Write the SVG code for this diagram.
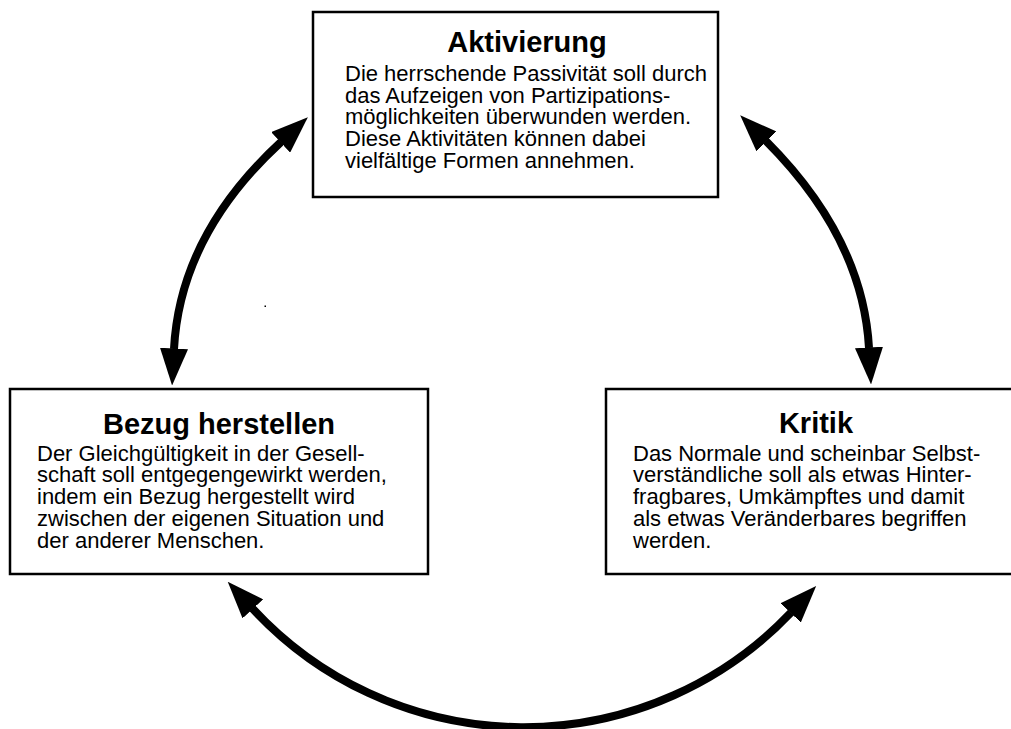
<svg xmlns="http://www.w3.org/2000/svg" width="1011" height="729" viewBox="0 0 1011 729">
<style>
.box{fill:#fff;stroke:#000;stroke-width:2.5}
.title{font-family:"Liberation Sans",Arial,sans-serif;font-weight:bold;font-size:29px;text-anchor:middle;fill:#000}
.body{font-family:"Liberation Sans",Arial,sans-serif;font-size:22px;fill:#000}
.arrow{fill:none;stroke:#000;stroke-width:8;marker-start:url(#ah);marker-end:url(#ah)}
</style>
<defs>
<marker id="ah" markerUnits="userSpaceOnUse" viewBox="0 0 37 28" markerWidth="37" markerHeight="28" refX="0.5" refY="14" orient="auto-start-reverse">
<path d="M0,0 L37,14 L0,28 z" fill="#000"/>
</marker>
</defs>
<rect width="1011" height="729" fill="#fff"/>
<g id="connectors">
<path class="arrow" d="M281,142 Q180,235 174,349"/>
<path class="arrow" d="M766,141 Q862.8,237.8 869,348"/>
<path class="arrow" d="M252.5,608.5 A369,369 0 0 0 791,612.5"/>
</g>
<g id="aktivierung">
<rect class="box" x="313" y="12" width="405" height="185"/>
<text class="title" x="527" y="52">Aktivierung</text>
<text class="body" x="345" y="81">Die herrschende Passivität soll durch</text>
<text class="body" x="345" y="102.7">das Aufzeigen von Partizipations-</text>
<text class="body" x="345" y="124.4">möglichkeiten überwunden werden.</text>
<text class="body" x="345" y="146.1">Diese Aktivitäten können dabei</text>
<text class="body" x="345" y="167.8">vielfältige Formen annehmen.</text>
</g>
<g id="bezug">
<rect class="box" x="10" y="389" width="418" height="185"/>
<text class="title" x="219" y="434">Bezug herstellen</text>
<text class="body" x="37" y="460.7">Der Gleichgültigkeit in der Gesell-</text>
<text class="body" x="37" y="482.4">schaft soll entgegengewirkt werden,</text>
<text class="body" x="37" y="504.1">indem ein Bezug hergestellt wird</text>
<text class="body" x="37" y="525.8">zwischen der eigenen Situation und</text>
<text class="body" x="37" y="547.5">der anderer Menschen.</text>
</g>
<g id="kritik">
<rect class="box" x="606" y="389" width="420" height="185"/>
<text class="title" x="816" y="433">Kritik</text>
<text class="body" x="633" y="460.7">Das Normale und scheinbar Selbst-</text>
<text class="body" x="633" y="482.4">verständliche soll als etwas Hinter-</text>
<text class="body" x="633" y="504.1">fragbares, Umkämpftes und damit</text>
<text class="body" x="633" y="525.8">als etwas Veränderbares begriffen</text>
<text class="body" x="633" y="547.5">werden.</text>
</g>
<rect x="264.5" y="305.5" width="1.5" height="1.5" fill="#000"/>
</svg>
